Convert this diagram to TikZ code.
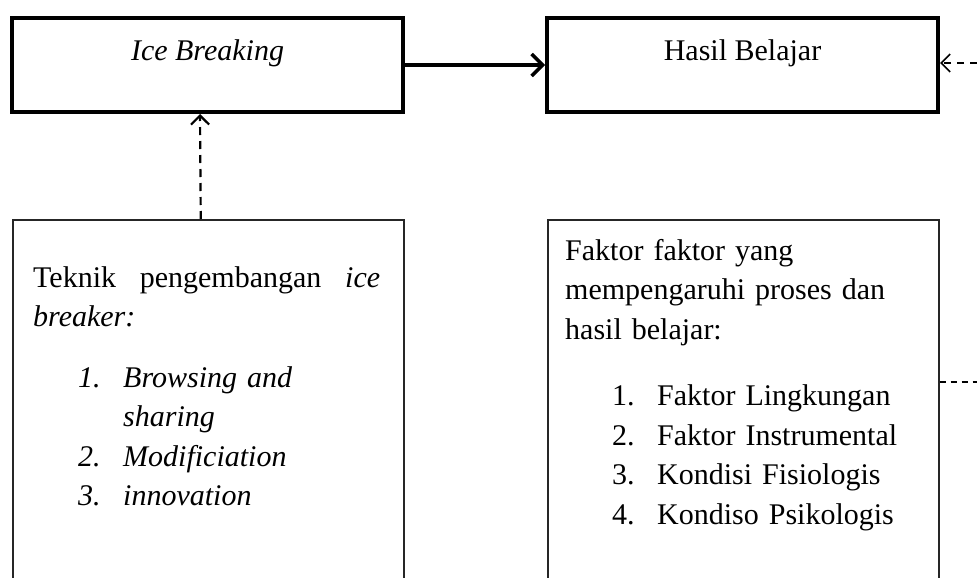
\documentclass[tikz,border=0pt]{standalone}
\usepackage{fontspec}
\setmainfont{Liberation Serif}
\usetikzlibrary{arrows.meta}

\begin{document}
\begin{tikzpicture}[x=1pt, y=-1pt,
  every node/.style={font=\fontsize{30}{39.5}\selectfont},
  topbox/.style={draw, line width=4pt, minimum width=391pt, minimum height=94pt,
    inner sep=0pt, text height=20pt, text depth=30pt},
  lowbox/.style={draw=black!85, line width=1.5pt, minimum width=391pt,
    minimum height=420pt, inner sep=0pt, anchor=north west},
  listtext/.style={inner sep=0pt, anchor=base west, align=left},
  dasharrow/.style={dash pattern=on 8pt off 6pt, line width=2.2pt,
    -{Straight Barb[length=9pt,width=18pt]}}]

  \useasboundingbox (0,0) rectangle (977,578);
  \clip (0,0) rectangle (977,578);

  \node[topbox] (ice) at (207.5,65) {\textit{Ice Breaking}};
  \node[topbox] (hasil) at (742.5,65) {Hasil Belajar};

  \node[lowbox] (teknik) at (12,219) {};
  \node[lowbox] (faktor) at (547,219) {};

  \coordinate (rIn) at (977,63);
  \coordinate (rOut) at (977,382);

  \node[listtext, text width=347pt] (teknikList) at (33,287)
    {Teknik\hfill pengembangan\hfill\textit{ice}\\
     \textit{breaker:}\par\vspace{21pt}
     \hspace*{45pt}\makebox[45pt][l]{\textit{1.}}\textit{Browsing and}\\
     \hspace*{90pt}\textit{sharing}\\
     \hspace*{45pt}\makebox[45pt][l]{\textit{2.}}\textit{Modificiation}\\
     \hspace*{45pt}\makebox[45pt][l]{\textit{3.}}\textit{innovation}};

  \node[listtext, text width=360pt] (faktorList) at (565,260)
    {Faktor faktor yang\\
     mempengaruhi proses dan\\
     hasil belajar:\par\vspace{27pt}
     \hspace*{47pt}\makebox[45pt][l]{1.}Faktor Lingkungan\\
     \hspace*{47pt}\makebox[45pt][l]{2.}Faktor Instrumental\\
     \hspace*{47pt}\makebox[45pt][l]{3.}Kondisi Fisiologis\\
     \hspace*{47pt}\makebox[45pt][l]{4.}Kondiso Psikologis};

  \draw[line width=3.5pt, -{Straight Barb[length=11pt,width=22pt]}] (ice) -- (hasil);
  \draw[dasharrow] ([xshift=-7.5pt]teknik.north) -- ([xshift=-7.5pt]ice.south);
  \draw[dasharrow, dash pattern=on 7pt off 6pt, line width=1.6pt] (rIn) -- (rIn -| hasil.east);
  \draw[dash pattern=on 6pt off 5pt, line width=1.2pt] (rOut -| faktor.east) -- (rOut);
\end{tikzpicture}
\end{document}
